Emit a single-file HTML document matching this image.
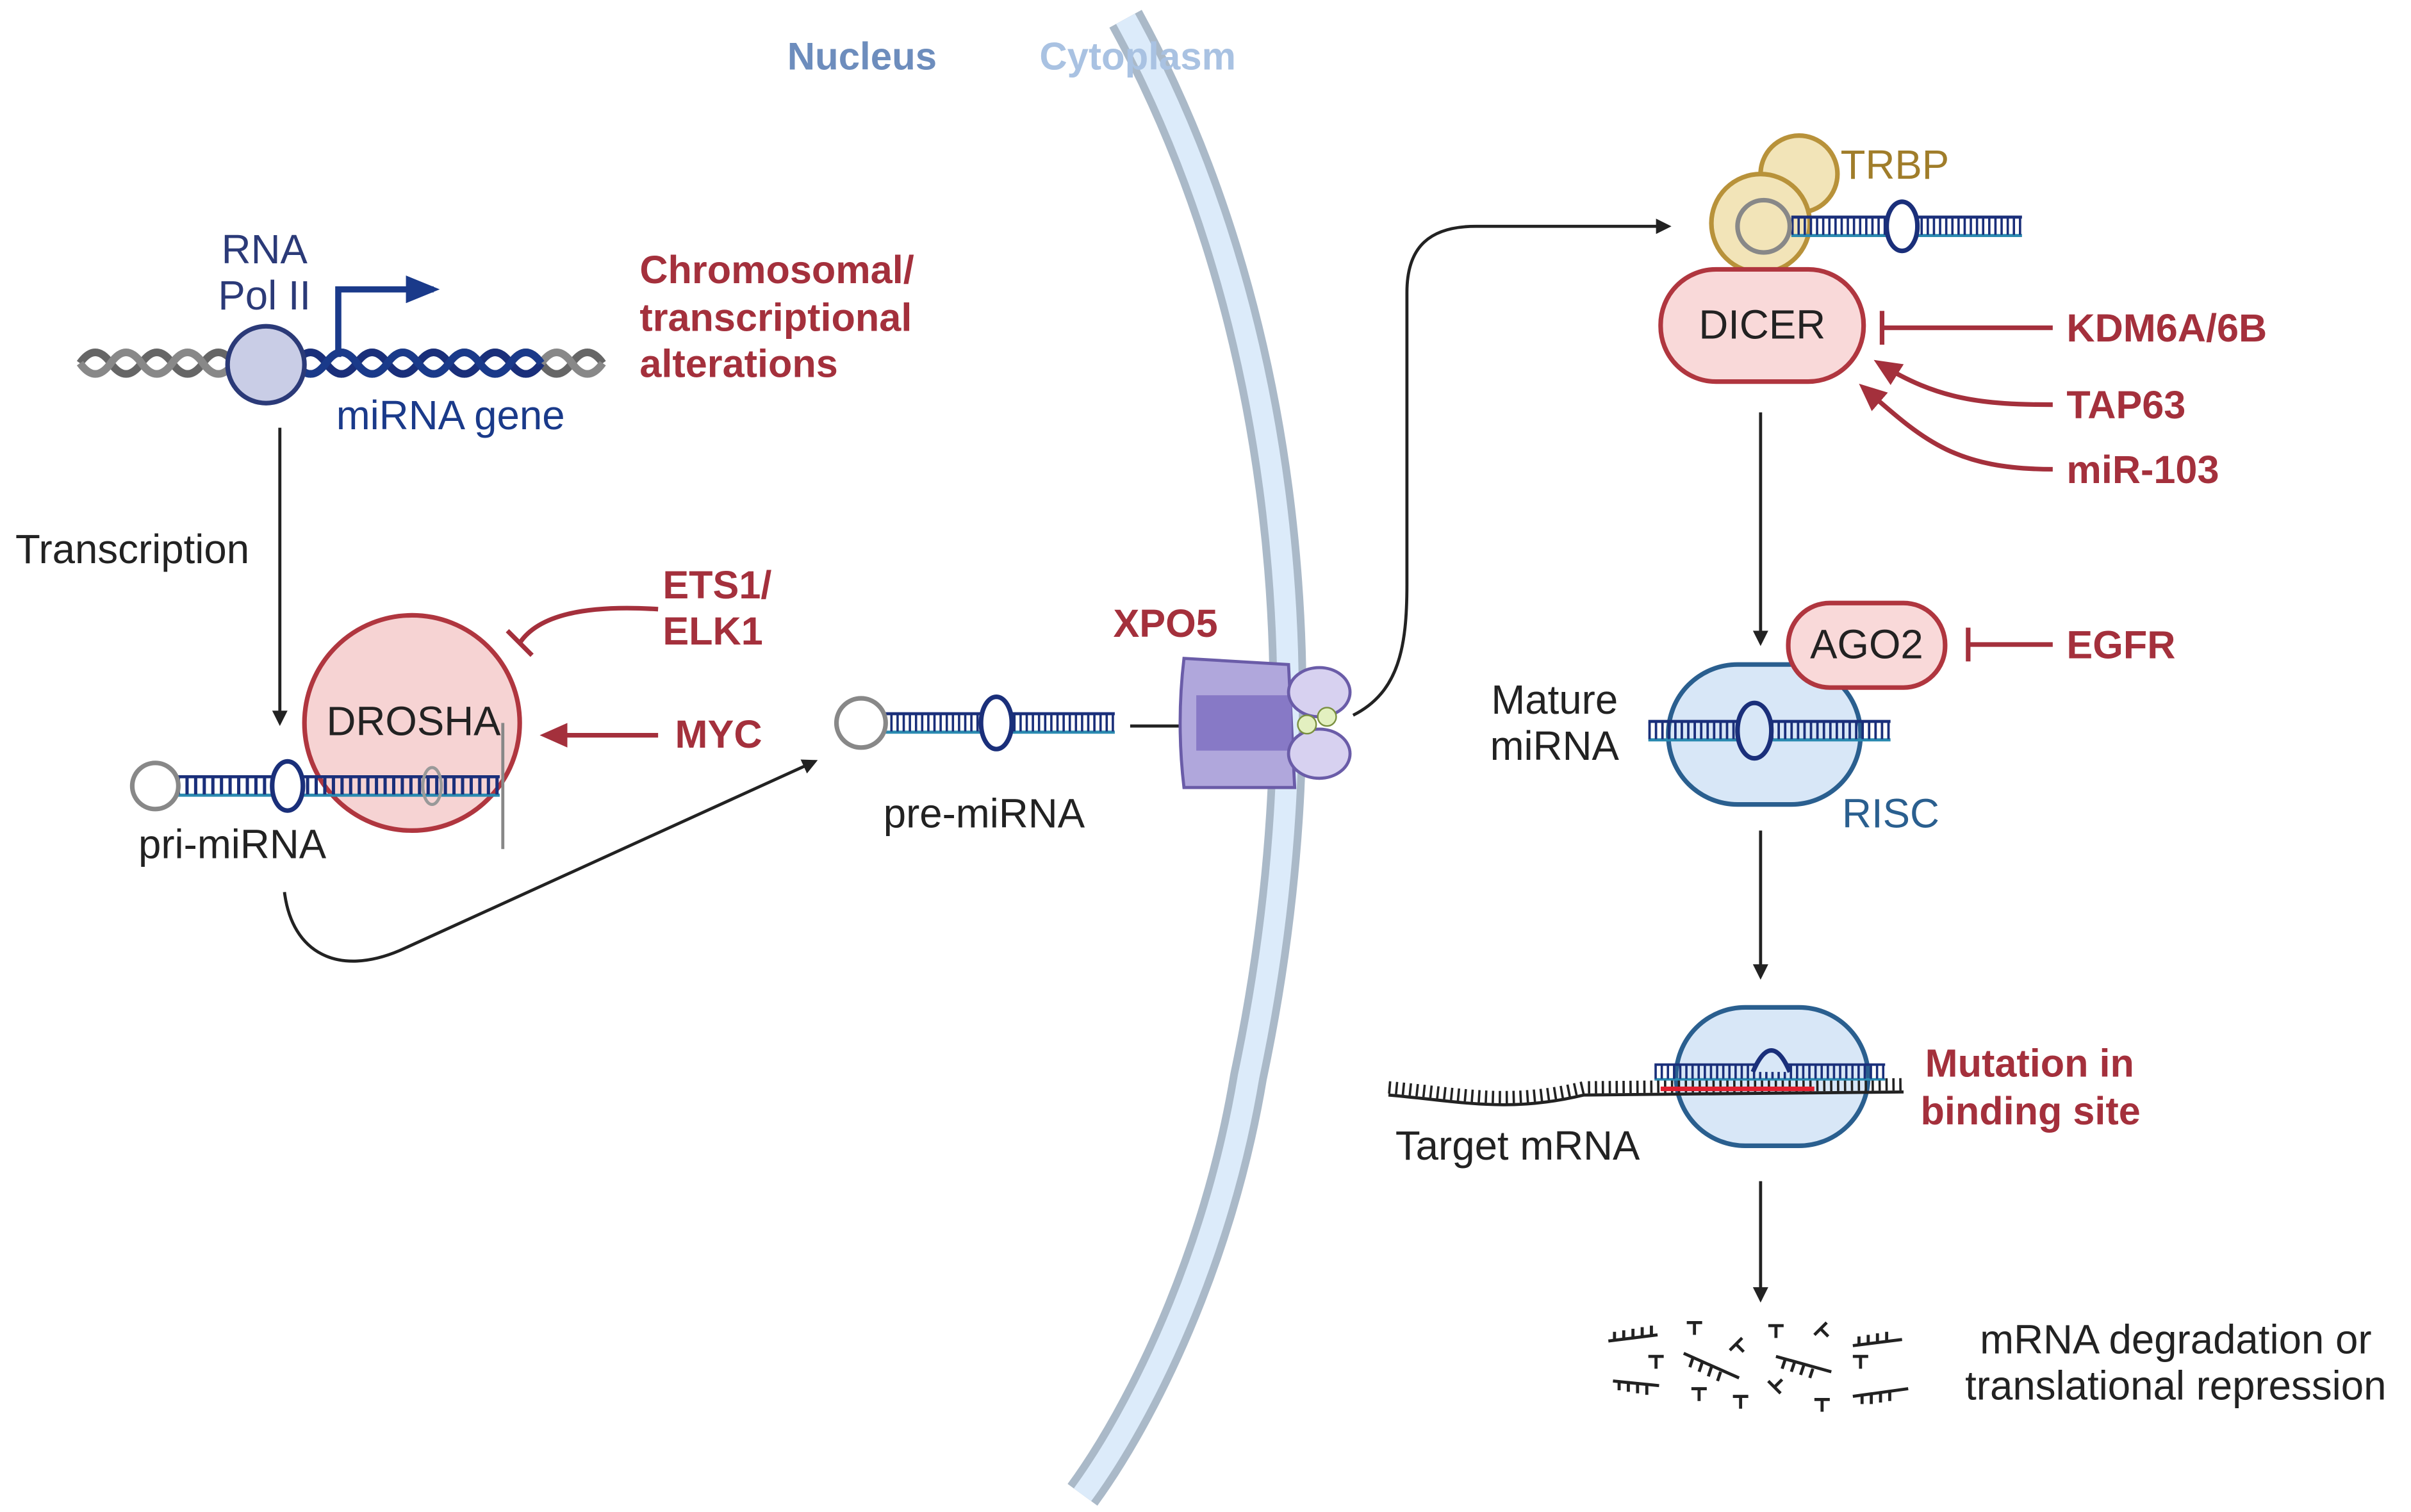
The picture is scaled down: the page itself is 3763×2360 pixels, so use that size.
<!DOCTYPE html>
<html><head><meta charset="utf-8"><style>
html,body{margin:0;padding:0;background:#fff;}
svg{display:block;}
text{font-family:"Liberation Sans",Arial,sans-serif;}
.lbl{font-size:26.5px;fill:#222;}
.red{font-size:25.5px;font-weight:bold;fill:#a4303c;}
</style></head><body>
<svg width="3763" height="2360" viewBox="0 0 1568 983" xmlns="http://www.w3.org/2000/svg">
<defs>
<marker id="ak" markerWidth="10" markerHeight="10" refX="8" refY="5" orient="auto" markerUnits="userSpaceOnUse"><path d="M0,0 L10,5 L0,10 z" fill="#222"/></marker>
<marker id="ar" markerWidth="18" markerHeight="16" refX="14" refY="8" orient="auto" markerUnits="userSpaceOnUse"><path d="M0,0 L18,8 L0,16 z" fill="#a4303c"/></marker>
<marker id="ab" markerWidth="22" markerHeight="18" refX="18" refY="9" orient="auto" markerUnits="userSpaceOnUse"><path d="M0,0 L22,9 L0,18 z" fill="#1a3a8a"/></marker>
<g id="hp">
 <line x1="0" y1="-6" x2="150" y2="-6" stroke="#1a2f7a" stroke-width="2"/>
 <line x1="0" y1="6" x2="150" y2="6" stroke="#2a8ab0" stroke-width="2"/>
 <line x1="0" y1="0" x2="150" y2="0" stroke="#1a2f7a" stroke-width="11" stroke-dasharray="1.5 2.5"/>
</g>
</defs>

<!-- membrane -->
<path d="M732,12 C835,200 865,450 812,700 C792,820 742,920 704,972" fill="none" stroke="#aab9c8" stroke-width="24"/>
<path d="M732,12 C835,200 865,450 812,700 C792,820 742,920 704,972" fill="none" stroke="#dcebfa" stroke-width="14"/>
<text x="512" y="45" font-size="25" font-weight="bold" fill="#6d8dbd">Nucleus</text>
<text x="676" y="45" font-size="25" font-weight="bold" fill="#a9c2e2">Cytoplasm</text>

<!-- DNA -->
<path d="M52,236 q10,-14 20,0 t20,0 t20,0 t20,0 t20,0 t20,0 t20,0 t20,0 t20,0 t20,0 t20,0 t20,0 t20,0 t20,0 t20,0 t20,0 t20,0" fill="none" stroke="#666" stroke-width="5"/>
<path d="M52,236 q10,14 20,0 t20,0 t20,0 t20,0 t20,0 t20,0 t20,0 t20,0 t20,0 t20,0 t20,0 t20,0 t20,0 t20,0 t20,0 t20,0 t20,0" fill="none" stroke="#888" stroke-width="5"/>
<path d="M192,236 q10,-14 20,0 t20,0 t20,0 t20,0 t20,0 t20,0 t20,0 t20,0" fill="none" stroke="#1a2f7a" stroke-width="5"/>
<path d="M192,236 q10,14 20,0 t20,0 t20,0 t20,0 t20,0 t20,0 t20,0 t20,0" fill="none" stroke="#1a3a8a" stroke-width="5"/>
<circle cx="173" cy="237" r="25" fill="#c9cde6" stroke="#2b3a78" stroke-width="3"/>
<path d="M220,232 V188 H282" fill="none" stroke="#1a3a8a" stroke-width="4" marker-end="url(#ab)"/>
<text x="172" y="171" class="lbl" text-anchor="middle" style="fill:#2b3a78">RNA</text>
<text x="172" y="201" class="lbl" text-anchor="middle" style="fill:#2b3a78">Pol II</text>
<text x="293" y="279" class="lbl" text-anchor="middle" style="fill:#1a3a8a">miRNA gene</text>
<text x="416" y="184" class="red">Chromosomal/</text>
<text x="416" y="215" class="red">transcriptional</text>
<text x="416" y="245" class="red">alterations</text>

<line x1="182" y1="278" x2="182" y2="470" stroke="#222" stroke-width="2" marker-end="url(#ak)"/>
<text x="10" y="366" class="lbl">Transcription</text>

<!-- DROSHA -->
<circle cx="268" cy="470" r="70" fill="#f6d3d3" stroke="#b0363f" stroke-width="3"/>
<use href="#hp" transform="translate(115,511) scale(1.4,1)"/>
<circle cx="101" cy="511" r="15" fill="#fff" stroke="#888" stroke-width="3"/>
<ellipse cx="187" cy="511" rx="10" ry="16" fill="#fff" stroke="#1a2f7a" stroke-width="3"/>
<ellipse cx="281" cy="511" rx="6" ry="12" fill="none" stroke="#999" stroke-width="2"/>
<line x1="327" y1="470" x2="327" y2="552" stroke="#888" stroke-width="2"/>
<text x="269" y="478" class="lbl" text-anchor="middle">DROSHA</text>
<text x="90" y="558" class="lbl">pri-miRNA</text>

<path d="M428,396 C380,393 350,400 338,418" fill="none" stroke="#a4303c" stroke-width="3"/>
<line x1="330" y1="410" x2="346" y2="426" stroke="#a4303c" stroke-width="3"/>
<text x="431" y="389" class="red">ETS1/</text>
<text x="431" y="419" class="red">ELK1</text>
<line x1="428" y1="478" x2="355" y2="478" stroke="#a4303c" stroke-width="3" marker-end="url(#ar)"/>
<text x="439" y="486" class="red">MYC</text>

<path d="M185,580 C190,620 220,635 260,618 L530,495" fill="none" stroke="#222" stroke-width="2" marker-end="url(#ak)"/>

<!-- pre-miRNA -->
<use href="#hp" transform="translate(575,470)"/>
<circle cx="560" cy="470" r="16" fill="#fff" stroke="#888" stroke-width="3"/>
<ellipse cx="648" cy="470" rx="10" ry="17" fill="#fff" stroke="#1a2f7a" stroke-width="3"/>
<text x="640" y="538" class="lbl" text-anchor="middle">pre-miRNA</text>
<line x1="735" y1="472" x2="772" y2="472" stroke="#222" stroke-width="2"/>

<!-- XPO5 -->
<text x="758" y="414" class="red" text-anchor="middle">XPO5</text>
<path d="M770,428 L838,432 L842,512 L770,512 Q765,470 770,428 z" fill="#b0a7dc" stroke="#6a5ca8" stroke-width="2"/>
<rect x="778" y="452" width="62" height="36" fill="#8779c6"/>
<ellipse cx="858" cy="450" rx="20" ry="16" fill="#d7d1f0" stroke="#6a5ca8" stroke-width="2"/>
<ellipse cx="858" cy="490" rx="20" ry="16" fill="#d7d1f0" stroke="#6a5ca8" stroke-width="2"/>
<circle cx="850" cy="471" r="6" fill="#e3f0c0" stroke="#7a9040" stroke-width="1"/>
<circle cx="863" cy="466" r="6" fill="#e3f0c0" stroke="#7a9040" stroke-width="1"/>

<path d="M880,465 C910,450 915,420 915,380 L915,190 C915,160 930,147 960,147 L1085,147" fill="none" stroke="#222" stroke-width="2" marker-end="url(#ak)"/>

<!-- TRBP/DICER -->
<circle cx="1170" cy="113" r="25" fill="#f2e4b8" stroke="#b8923a" stroke-width="3"/>
<circle cx="1145" cy="145" r="32" fill="#f2e4b8" stroke="#b8923a" stroke-width="3"/>
<use href="#hp" transform="translate(1165,147)"/>
<circle cx="1147" cy="147" r="17" fill="none" stroke="#888" stroke-width="3"/>
<ellipse cx="1237" cy="147" rx="10" ry="16" fill="#fff" stroke="#1a2f7a" stroke-width="3"/>
<text x="1197" y="116" class="lbl" style="fill:#a07d2a">TRBP</text>
<rect x="1080" y="175" width="132" height="73" rx="36" fill="#f9d9d9" stroke="#b0363f" stroke-width="3"/>
<text x="1146" y="220" class="lbl" text-anchor="middle">DICER</text>
<line x1="1335" y1="213" x2="1224" y2="213" stroke="#a4303c" stroke-width="3"/>
<line x1="1224" y1="202" x2="1224" y2="224" stroke="#a4303c" stroke-width="3"/>
<text x="1344" y="222" class="red">KDM6A/6B</text>
<path d="M1335,263 C1290,263 1260,260 1222,236" fill="none" stroke="#a4303c" stroke-width="3" marker-end="url(#ar)"/>
<text x="1344" y="272" class="red">TAP63</text>
<path d="M1335,305 C1270,305 1250,285 1212,252" fill="none" stroke="#a4303c" stroke-width="3" marker-end="url(#ar)"/>
<text x="1344" y="314" class="red">miR-103</text>

<line x1="1145" y1="268" x2="1145" y2="418" stroke="#222" stroke-width="2" marker-end="url(#ak)"/>

<!-- RISC -->
<rect x="1085" y="432" width="125" height="91" rx="45" fill="#d8e7f7" stroke="#2a5f8f" stroke-width="3"/>
<use href="#hp" transform="translate(1072,475) scale(1.05,1)"/>
<ellipse cx="1141" cy="475" rx="11" ry="18" fill="#d8e7f7" stroke="#1a2f7a" stroke-width="3"/>
<rect x="1163" y="392" width="102" height="55" rx="27" fill="#f9d9d9" stroke="#b0363f" stroke-width="3"/>
<text x="1214" y="428" class="lbl" text-anchor="middle">AGO2</text>
<line x1="1335" y1="419" x2="1280" y2="419" stroke="#a4303c" stroke-width="3"/>
<line x1="1280" y1="408" x2="1280" y2="430" stroke="#a4303c" stroke-width="3"/>
<text x="1344" y="428" class="red">EGFR</text>
<text x="1011" y="464" class="lbl" text-anchor="middle">Mature</text>
<text x="1011" y="494" class="lbl" text-anchor="middle">miRNA</text>
<text x="1198" y="538" class="lbl" style="fill:#2a5f8f">RISC</text>

<line x1="1145" y1="540" x2="1145" y2="635" stroke="#222" stroke-width="2" marker-end="url(#ak)"/>

<!-- target -->
<rect x="1090" y="655" width="125" height="90" rx="45" fill="#d8e7f7" stroke="#2a5f8f" stroke-width="3"/>
<path d="M903,712 C950,716 980,724 1030,712 L1238,710" fill="none" stroke="#222" stroke-width="2"/>
<path d="M903,707 C950,711 980,719 1030,707 L1238,705" fill="none" stroke="#222" stroke-width="8" stroke-dasharray="1.5 3"/>
<line x1="1080" y1="708" x2="1180" y2="708" stroke="#e02030" stroke-width="3"/>
<use href="#hp" transform="translate(1076,697) scale(1.0,0.8)"/>
<path d="M1140,697 q12,-28 24,0" fill="#d8e7f7" stroke="#1a2f7a" stroke-width="3"/>
<text x="987" y="754" class="lbl" text-anchor="middle">Target mRNA</text>
<text x="1252" y="700" class="red">Mutation in</text>
<text x="1249" y="731" class="red">binding site</text>

<line x1="1145" y1="768" x2="1145" y2="845" stroke="#222" stroke-width="2" marker-end="url(#ak)"/>

<!-- fragments -->
<g stroke="#222" stroke-width="2" fill="none">
<path d="M1046,872 l32,-4 m-28,4 v-6 m6,5 v-6 m6,5 v-6 m6,5 v-6 m6,5 v-6"/>
<path d="M1049,898 l30,3 m-26,-3 v6 m6,-5 v6 m6,-5 v6 m6,-5 v6"/>
<path d="M1095,880 l36,16 m-30,-13 l-2,6 m8,-3 l-2,6 m8,-3 l-2,6 m8,-3 l-2,6"/>
<path d="M1097,860 h10 m-5,0 v8"/><path d="M1072,882 h10 m-5,0 v8"/><path d="M1100,903 h10 m-5,0 v8"/>
<path d="M1125,878 l8,-8 m-4,4 l5,5"/><path d="M1127,908 h10 m-5,0 v8"/>
<path d="M1150,862 h10 m-5,0 v8"/><path d="M1180,868 l8,-8 m-4,4 l5,5"/><path d="M1150,898 l8,8 m-4,-4 l5,-5"/>
<path d="M1155,882 l36,10 m-30,-8 l-2,6 m8,-4 l-2,6 m8,-4 l-2,6 m8,-4 l-2,6"/>
<path d="M1180,910 h10 m-5,0 v8"/><path d="M1205,882 h10 m-5,0 v8"/>
<path d="M1205,875 l32,-4 m-28,4 v-6 m6,5 v-6 m6,5 v-6 m6,5 v-6"/>
<path d="M1205,908 l36,-5 m-30,4 v6 m6,-6 v6 m6,-7 v6 m6,-7 v6"/>
</g>
<text x="1415" y="880" class="lbl" text-anchor="middle">mRNA degradation or</text>
<text x="1415" y="910" class="lbl" text-anchor="middle">translational repression</text>
</svg>
</body></html>
